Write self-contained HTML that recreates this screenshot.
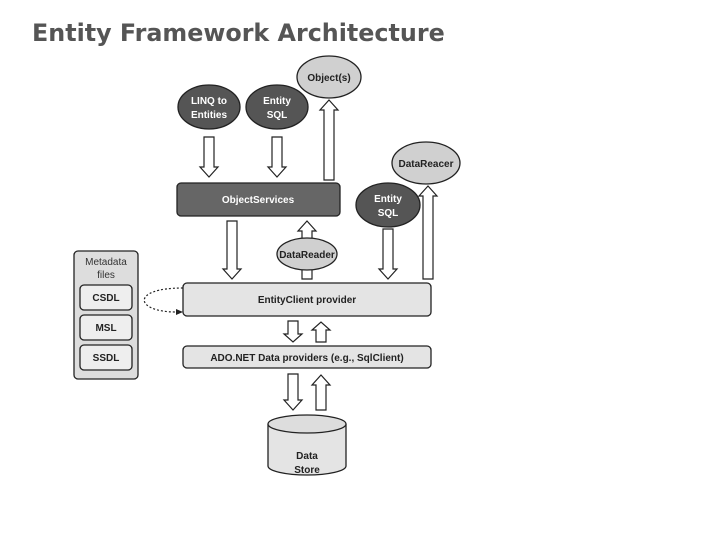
<!DOCTYPE html>
<html><head><meta charset="utf-8"><style>
html,body{margin:0;padding:0;background:#fff;width:720px;height:540px;overflow:hidden}
svg{display:block}
text{font-family:"Liberation Sans",sans-serif;font-weight:bold;font-size:10px}
</style></head><body>
<svg width="720" height="540" viewBox="0 0 720 540" xmlns="http://www.w3.org/2000/svg">
<text x="32" y="41" style="font-family:'DejaVu Sans',sans-serif;font-size:23.8px;fill:#555">Entity Framework Architecture</text>
<g fill="#fff" stroke="#222" stroke-width="1.2">
<polygon points="204,137 214,137 214,167 218,167 209,177 200,167 204,167"/>
<polygon points="272,137 282,137 282,167 286,167 277,177 268,167 272,167"/>
<polygon points="324,180 334,180 334,110 338,110 329,100 320,110 324,110"/>
<polygon points="423,279 433,279 433,196 437,196 428,186 419,196 423,196"/>
<polygon points="383,229 393,229 393,269 397,269 388,279 379,269 383,269"/>
<polygon points="227,221 237,221 237,269 241,269 232,279 223,269 227,269"/>
<polygon points="302,279 312,279 312,231 316,231 307,221 298,231 302,231"/>
<polygon points="288,321 298,321 298,334 302,334 293,342 284,334 288,334"/>
<polygon points="316,342 326,342 326,330 330,330 321,322 312,330 316,330"/>
<polygon points="288,374 298,374 298,400 302,400 293,410 284,400 288,400"/>
<polygon points="316,410 326,410 326,385 330,385 321,375 312,385 316,385"/>
</g>
<g stroke="#222" stroke-width="1.3">
<ellipse cx="329" cy="77" rx="32" ry="21" fill="#d0d0d0"/>
<ellipse cx="209" cy="107" rx="31" ry="22" fill="#555"/>
<ellipse cx="277" cy="107" rx="31" ry="22" fill="#555"/>
<ellipse cx="426" cy="163" rx="34" ry="21" fill="#d0d0d0"/>
<ellipse cx="388" cy="205" rx="32" ry="22" fill="#555"/>
<rect x="177" y="183" width="163" height="33" rx="4" fill="#666"/>
<rect x="183" y="283" width="248" height="33" rx="4" fill="#e4e4e4"/>
<rect x="183" y="346" width="248" height="22" rx="4" fill="#e4e4e4"/>
<rect x="74" y="251" width="64" height="128" rx="4" fill="#ddd"/>
<rect x="80" y="285" width="52" height="25" rx="4" fill="#eee"/>
<rect x="80" y="315" width="52" height="25" rx="4" fill="#eee"/>
<rect x="80" y="345" width="52" height="25" rx="4" fill="#eee"/>
<ellipse cx="307" cy="254" rx="30" ry="16" fill="#d0d0d0"/>
<path d="M268,424 L268,466 A39,9 0 0 0 346,466 L346,424" fill="#e4e4e4"/>
<ellipse cx="307" cy="424" rx="39" ry="9" fill="#ddd"/>
</g>
<path d="M183,288 C130,288 135,312 176,312" fill="none" stroke="#222" stroke-width="1.2" stroke-dasharray="2,2"/>
<polygon points="176,309 183,312 176,315" fill="#222"/>
<g text-anchor="middle">
<text x="329" y="81" fill="#222">Object(s)</text>
<text x="209" y="104" fill="#fff">LINQ to</text>
<text x="209" y="118" fill="#fff">Entities</text>
<text x="277" y="104" fill="#fff">Entity</text>
<text x="277" y="118" fill="#fff">SQL</text>
<text x="426" y="167" fill="#222">DataReacer</text>
<text x="388" y="202" fill="#fff">Entity</text>
<text x="388" y="216" fill="#fff">SQL</text>
<text x="258" y="203" fill="#fff">ObjectServices</text>
<text x="307" y="258" fill="#222">DataReader</text>
<text x="307" y="303" fill="#222">EntityClient provider</text>
<text x="307" y="361" fill="#222">ADO.NET Data providers (e.g., SqlClient)</text>
<text x="307" y="459" fill="#222">Data</text>
<text x="307" y="473" fill="#222">Store</text>
<text x="106" y="265" fill="#333" style="font-weight:normal">Metadata</text>
<text x="106" y="278" fill="#333" style="font-weight:normal">files</text>
<text x="106" y="301" fill="#222">CSDL</text>
<text x="106" y="331" fill="#222">MSL</text>
<text x="106" y="361" fill="#222">SSDL</text>
</g>
</svg>
</body></html>
